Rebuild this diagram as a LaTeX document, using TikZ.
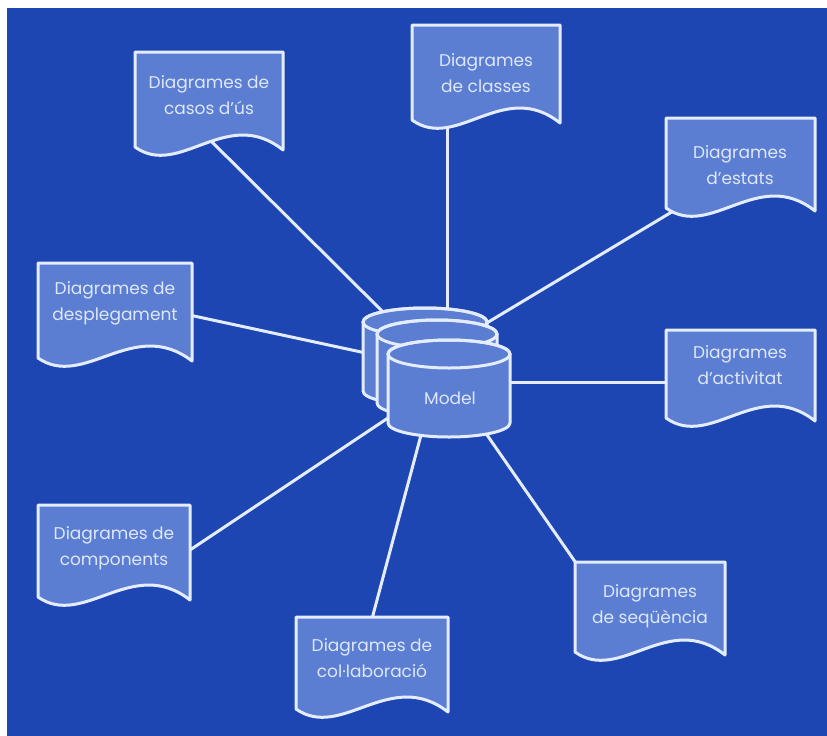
\documentclass[tikz,border=0pt]{standalone}
\usepackage{fontspec}
\setmainfont{Poppins}
\definecolor{bg}{RGB}{29,70,178}
\definecolor{docfill}{RGB}{92,126,210}
\definecolor{edge}{RGB}{228,236,255}
\definecolor{txt}{RGB}{222,232,252}
\tikzset{
  docsty/.style={fill=docfill, draw=edge, line width=3pt, line join=round},
  cylsty/.style={fill=docfill, draw=edge, line width=3pt, line join=round},
  edgesty/.style={draw=edge, line width=3pt},
  conn/.style={draw=edge, line width=3pt},
  lbl/.style={text=txt, align=center, font=\fontsize{17}{26}\selectfont, inner sep=0pt},
}
\newcommand\docpath[4]{%
  \path[docsty] (#1,#2) -- (#1+#3,#2) -- (#1+#3,#2+#4+3)
    .. controls (#1+0.62*#3,#2+#4-42) and (#1+0.3*#3,#2+#4+32) .. (#1,#2+#4) -- cycle;}
\newcommand\cylpath[4]{%
  \path[cylsty] (#1-#3,#2) -- (#1-#3,#2+#4)
    arc[start angle=180,end angle=360,x radius=#3pt,y radius=14pt]
    -- (#1+#3,#2)
    arc[start angle=0,end angle=180,x radius=#3pt,y radius=14pt] -- cycle;
  \path[edgesty] (#1,#2) ellipse[x radius=#3pt,y radius=14pt];}
\begin{document}
\begin{tikzpicture}[x=1pt,y=-1pt]
\useasboundingbox (0,0) rectangle (827,736);
\fill[white] (0,0) rectangle (827,736);
\fill[bg] (7,8) rectangle (827,736);

% connector end points
\coordinate (casosA) at (205,135);   \coordinate (casosB) at (385,314);
\coordinate (classesA) at (447,100); \coordinate (classesB) at (447,315);
\coordinate (estatsA) at (680,207);  \coordinate (estatsB) at (480,327);
\coordinate (despA) at (180,313);    \coordinate (despB) at (375,355);
\coordinate (actA) at (680,382);     \coordinate (actB) at (500,382);
\coordinate (compA) at (178,558);    \coordinate (compB) at (400,410);
\coordinate (colA) at (369,630);     \coordinate (colB) at (425,420);
\coordinate (seqA) at (585,576);     \coordinate (seqB) at (478,422);

\draw[conn] (casosA) -- (casosB);
\draw[conn] (classesA) -- (classesB);
\draw[conn] (estatsA) -- (estatsB);
\draw[conn] (despA) -- (despB);
\draw[conn] (actA) -- (actB);
\draw[conn] (compA) -- (compB);
\draw[conn] (colA) -- (colB);
\draw[conn] (seqA) -- (seqB);

% cylinders (back to front)
\cylpath{425}{322}{62}{69}
\cylpath{437}{334}{60}{69}
\cylpath{449}{354}{61}{69}
\node[lbl] (model) at (450,398) {Model};

% documents
\docpath{135}{52}{148}{95}
\node[lbl] (casos) at (209,95) {Diagrames de\\casos d'ús};
\docpath{412}{25}{148}{95}
\node[lbl] (classes) at (486,73) {Diagrames\\de classes};
\docpath{666}{118}{149}{90}
\node[lbl] (estats) at (740,165) {Diagrames\\d'estats};
\docpath{38}{263}{154}{95}
\node[lbl] (desp) at (115,303) {Diagrames de\\desplegament};
\docpath{666}{330}{149}{88}
\node[lbl] (act) at (740,365) {Diagrames\\d'activitat};
\docpath{38}{505}{152}{92}
\node[lbl] (comp) at (114,548) {Diagrames de\\components};
\docpath{296}{617}{152}{92}
\node[lbl] (col) at (372,658) {Diagrames de\\col·laboració};
\docpath{575}{562}{150}{90}
\node[lbl] (seq) at (650,606) {Diagrames\\de seqüència};
\end{tikzpicture}
\end{document}
